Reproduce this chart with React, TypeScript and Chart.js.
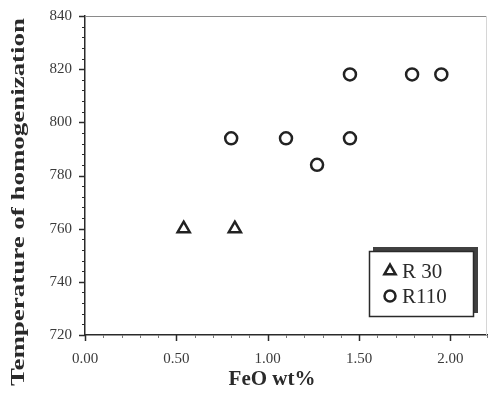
import React, { useEffect, useRef } from "react";
import { Chart, registerables } from "chart.js";

Chart.register(...registerables);

const R30_X = [0.54, 0.82];
const R30_Y = [760, 760];
const R110_X = [0.8, 1.1, 1.27, 1.45, 1.45, 1.79, 1.95];
const R110_Y = [794, 794, 784, 794, 818, 818, 818];
const SERIES_NAMES = ["R 30", "R110"];
const X_TICKS = [0, 0.5, 1, 1.5, 2];
const Y_TICKS = [720, 740, 760, 780, 800, 820, 840];
const X_TITLE = "FeO wt%";
const Y_TITLE = "Temperature of homogenization";

const INK = "#2a2a2a";
const SERIF = "'Liberation Serif', 'DejaVu Serif', serif";

const decorPlugin = {
  id: "decor",
  afterDraw(chart: any) {
    const ctx = chart.ctx as CanvasRenderingContext2D;
    const { left, right, top, bottom } = chart.chartArea;
    const xs = chart.scales.x;
    const ys = chart.scales.y;
    ctx.save();
    // top and right frame
    ctx.strokeStyle = "#8a8a8a";
    ctx.lineWidth = 1;
    ctx.beginPath();
    ctx.moveTo(left, top + 0.5);
    ctx.lineTo(right, top + 0.5);
    ctx.stroke();
    ctx.strokeStyle = "#d6d6d6";
    ctx.beginPath();
    ctx.moveTo(right - 0.5, top);
    ctx.lineTo(right - 0.5, bottom);
    ctx.stroke();
    // y ticks (outward, every 4)
    ctx.strokeStyle = INK;
    for (let v = 720; v <= 840; v += 4) {
      const y = Math.round(ys.getPixelForValue(v)) + 0.5;
      const major = v % 20 === 0;
      ctx.lineWidth = major ? 1.5 : 1;
      ctx.beginPath();
      ctx.moveTo(left, y);
      ctx.lineTo(left - (major ? 6 : 3), y);
      ctx.stroke();
    }
    // x ticks (outward, every 0.1)
    for (let i = 0; i <= 22; i++) {
      const v = i / 10;
      const x = Math.round(xs.getPixelForValue(v)) + 0.5;
      const major = i % 5 === 0;
      ctx.lineWidth = major ? 1.5 : 1;
      ctx.strokeStyle = major ? INK : "#777";
      ctx.beginPath();
      ctx.moveTo(x, bottom);
      ctx.lineTo(x, bottom + (major ? 6 : 3));
      ctx.stroke();
    }
    // axis titles
    ctx.fillStyle = INK;
    ctx.font = `bold 21px ${SERIF}`;
    ctx.textAlign = "center";
    ctx.textBaseline = "middle";
    ctx.fillText(X_TITLE, 272, 380);
    ctx.save();
    ctx.translate(19, 202);
    ctx.rotate(-Math.PI / 2);
    ctx.font = `bold 19px ${SERIF}`;
    const w = ctx.measureText(Y_TITLE).width;
    const target = 368;
    ctx.scale(target / w, 1);
    ctx.fillText(Y_TITLE, 0, 0);
    ctx.restore();
    // legend box with shadow
    const bx = 369, by = 251, bw = 105, bh = 66;
    ctx.fillStyle = "#404040";
    ctx.fillRect(bx + 4, by - 4, bw, bh);
    ctx.fillStyle = "#ffffff";
    ctx.fillRect(bx, by, bw, bh);
    ctx.strokeStyle = INK;
    ctx.lineWidth = 1.5;
    ctx.strokeRect(bx + 0.5, by + 0.5, bw - 1, bh - 1);
    const dss = chart.data.datasets;
    const rows = [271, 296];
    rows.forEach((ry, i) => {
      const ds = dss[i];
      ctx.lineWidth = 2.5;
      ctx.strokeStyle = ds.borderColor;
      ctx.beginPath();
      if (ds.pointStyle === "triangle") {
        const r = 6.5;
        ctx.moveTo(390, ry - r);
        ctx.lineTo(390 + r * 0.866, ry + r * 0.5);
        ctx.lineTo(390 - r * 0.866, ry + r * 0.5);
        ctx.closePath();
      } else {
        ctx.arc(390, ry, 5.5, 0, Math.PI * 2);
      }
      ctx.stroke();
      ctx.fillStyle = INK;
      ctx.font = `21px ${SERIF}`;
      ctx.textAlign = "left";
      ctx.textBaseline = "middle";
      ctx.fillText(ds.label, 402, ry + 1);
    });
    ctx.restore();
  },
};

export default function App() {
  const ref = useRef<HTMLCanvasElement | null>(null);
  useEffect(() => {
    if (!ref.current) return;
    const chart = new Chart(ref.current, {
      type: "scatter",
      data: {
        datasets: [
          {
            label: SERIES_NAMES[0],
            data: R30_X.map((x, i) => ({ x, y: R30_Y[i] })),
            pointStyle: "triangle",
            pointRadius: 7,
            borderWidth: 2.5,
            borderColor: "#222222",
            backgroundColor: "rgba(255,255,255,0)",
          },
          {
            label: SERIES_NAMES[1],
            data: R110_X.map((x, i) => ({ x, y: R110_Y[i] })),
            pointStyle: "circle",
            pointRadius: 6,
            borderWidth: 2.5,
            borderColor: "#222222",
            backgroundColor: "rgba(255,255,255,0)",
          },
        ],
      },
      options: {
        animation: false,
        responsive: true,
        maintainAspectRatio: false,
        layout: { autoPadding: false, padding: { left: 0, top: 16, right: 2, bottom: 0 } },
        plugins: { legend: { display: false }, tooltip: { enabled: false } },
        scales: {
          x: {
            type: "linear",
            min: 0,
            max: 2.2,
            afterBuildTicks: (s: any) => {
              s.ticks = X_TICKS.map((v) => ({ value: v }));
            },
            afterFit: (s: any) => {
              s.height = 60;
              s.paddingLeft = 0;
              s.paddingRight = 0;
            },
            grid: { display: true, drawOnChartArea: false, drawTicks: false },
            border: { display: true, color: INK, width: 1.5 },
            ticks: {
              autoSkip: false,
              maxRotation: 0,
              padding: 15,
              color: "#3a3a3a",
              font: { family: SERIF, size: 15 },
              callback: (v: any) => Number(v).toFixed(2),
            },
          },
          y: {
            type: "linear",
            min: 720,
            max: 840,
            afterBuildTicks: (s: any) => {
              s.ticks = Y_TICKS.map((v) => ({ value: v }));
            },
            afterFit: (s: any) => {
              s.width = 85;
              s.paddingTop = 0;
              s.paddingBottom = 0;
            },
            grid: { display: true, drawOnChartArea: false, drawTicks: false },
            border: { display: true, color: INK, width: 1.5 },
            ticks: {
              autoSkip: false,
              padding: 13,
              color: "#3a3a3a",
              font: { family: SERIF, size: 15 },
            },
          },
        },
      },
      plugins: [decorPlugin],
    });
    return () => chart.destroy();
  }, []);
  return (
    <div style={{ position: "absolute", left: 0, top: 0, width: 489, height: 395 }}>
      <canvas ref={ref} />
    </div>
  );
}
